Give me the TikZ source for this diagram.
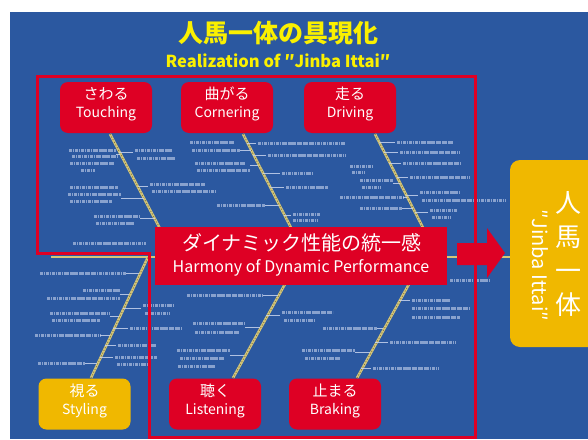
\documentclass[tikz,border=0pt]{standalone}
\usepackage{fontspec}
\setmainfont{Noto Sans CJK JP}
\definecolor{bgblue}{RGB}{43,88,160}
\definecolor{mred}{RGB}{222,0,36}
\definecolor{myel}{RGB}{240,184,0}
\definecolor{tyel}{RGB}{250,240,0}
\definecolor{khaki}{RGB}{212,198,120}
\definecolor{khakid}{RGB}{130,120,70}
\definecolor{blur}{RGB}{200,212,238}
\newcommand{\txtbar}[3]{\draw[txtb] (#1,#3) -- (#2,#3);}
\newcommand{\tck}[3]{\draw[tickl] (#1,#3) -- (#2,#3);}
\begin{document}
\begin{tikzpicture}[x=1pt,y=-1pt,
  catbox/.style={fill=mred,rounded corners=8pt,minimum width=92pt,minimum height=51pt,inner sep=0pt},
  ylbox/.style={catbox,fill=myel},
  jp/.style={text=white,font=\fontsize{15}{15}\selectfont,inner sep=0pt},
  en/.style={text=white,font=\fontsize{14}{14}\selectfont,inner sep=0pt},
  bone/.style={draw=khaki,line width=2.6pt},
  bonet/.style={draw=khakid,line width=0.9pt,dash pattern=on 1pt off 2pt},
  txtb/.style={draw=blur,line width=3pt,opacity=0.6,dash pattern=on 3pt off 0.8pt on 1.5pt off 0.6pt},
  tickl/.style={draw=blur,line width=0.8pt,opacity=0.85},
  frame/.style={draw=mred,line width=3pt}]
\useasboundingbox (0,0) rectangle (588,439);
\clip (0,0) rectangle (588,439);
\fill[bgblue] (10,12) rectangle (588,439);
% title
\node[text=tyel,font=\fontsize{25}{25}\selectfont\bfseries,inner sep=0pt] (title) at (278,33) {人馬一体の具現化};
\node[text=tyel,font=\fontsize{16.5}{16.5}\selectfont\bfseries,inner sep=0pt] (subtitle) at (278,61) {Realization of ″Jinba Ittai″};
% spine
\coordinate (sp0) at (51,257);
\coordinate (sp1) at (510,257);
\draw[bone] (sp0) -- (sp1);
% bone end points
\coordinate (tA) at (110,134); \coordinate (tB) at (175,257);
\coordinate (cA) at (243,134); \coordinate (cB) at (306,257);
\coordinate (dA) at (375,134); \coordinate (dB) at (438,257);
\coordinate (sA) at (91,378);  \coordinate (sB) at (148,257);
\coordinate (lA) at (233,378); \coordinate (lB) at (300,257);
\coordinate (bA) at (357,378); \coordinate (bB) at (424,257);
\foreach \a/\b in {tA/tB,cA/cB,dA/dB,sA/sB,lA/lB,bA/bB}{
  \draw[bone] (\a) -- (\b);
  \draw[bonet] (\a) -- (\b);
}
% Touching details
\txtbar{69}{116}{150} \txtbar{72}{118}{156} \txtbar{70}{114}{163} \txtbar{81}{95}{170}
\tck{116}{120}{154}
\txtbar{135}{172}{150} \txtbar{137}{176}{158} \tck{119}{133}{152}
\txtbar{70}{118}{187} \txtbar{68}{121}{194} \txtbar{70}{112}{201} \tck{121}{144}{198}
\txtbar{150}{205}{184} \txtbar{152}{215}{191} \tck{138}{148}{186}
\txtbar{94}{140}{216} \txtbar{96}{134}{223} \tck{140}{155}{218}
\txtbar{73}{146}{243}
% Cornering details
\txtbar{190}{235}{142} \txtbar{192}{240}{150} \tck{240}{251}{150}
\txtbar{195}{245}{163} \txtbar{197}{250}{170} \tck{250}{258}{165}
\txtbar{217}{265}{205} \tck{265}{279}{205}
\txtbar{258}{345}{143} \tck{247}{256}{143}
\txtbar{268}{345}{155} \tck{253}{266}{155}
\txtbar{282}{312}{173} \tck{263}{280}{173}
\txtbar{286}{328}{187} \tck{270}{284}{187}
\txtbar{293}{320}{214} \txtbar{293}{318}{220} \tck{284}{291}{215}
% Driving details
\txtbar{350}{372}{166} \txtbar{352}{365}{172}
\txtbar{360}{393}{180} \txtbar{362}{380}{187} \tck{393}{400}{183}
\txtbar{340}{403}{197} \tck{403}{407}{197}
\txtbar{360}{402}{208} \tck{402}{413}{208}
\txtbar{397}{453}{142} \tck{379}{395}{142}
\txtbar{400}{460}{152} \tck{384}{398}{152}
\txtbar{403}{460}{163} \tck{389}{401}{163}
\txtbar{410}{470}{177} \tck{397}{408}{177}
\txtbar{420}{460}{192} \txtbar{422}{505}{200} \tck{406}{418}{195}
\txtbar{430}{457}{210} \txtbar{432}{450}{217} \tck{415}{428}{212}
% Styling details
\txtbar{40}{126}{273} \tck{126}{139}{273}
\txtbar{83}{120}{290} \txtbar{47}{120}{298} \tck{120}{129}{294}
\txtbar{50}{110}{313} \txtbar{52}{100}{320} \tck{110}{119}{316}
\txtbar{35}{100}{335} \tck{100}{110}{335}
\txtbar{38}{85}{363} \tck{85}{97}{363}
\txtbar{143}{173}{305} \txtbar{145}{170}{313} \tck{123}{141}{308}
\txtbar{130}{182}{328} \tck{113}{128}{328}
\txtbar{118}{157}{345} \tck{105}{116}{345}
\txtbar{115}{157}{357} \txtbar{117}{150}{364} \tck{100}{113}{357}
% Listening details
\txtbar{187}{263}{295} \tck{263}{278}{295}
\txtbar{193}{245}{323} \txtbar{195}{240}{332} \tck{245}{260}{327}
\txtbar{177}{230}{350} \txtbar{180}{225}{358} \txtbar{178}{215}{366} \tck{230}{244}{355}
\txtbar{282}{333}{312} \txtbar{284}{315}{320} \tck{266}{280}{315}
% Braking details
\txtbar{323}{377}{328} \tck{377}{383}{328}
\txtbar{302}{355}{350} \txtbar{305}{340}{358} \tck{355}{370}{352}
\txtbar{412}{450}{300} \txtbar{412}{470}{308} \txtbar{412}{460}{317} \tck{399}{410}{300}
\txtbar{390}{455}{342} \tck{375}{388}{342}
\txtbar{373}{438}{368} \tck{361}{371}{368}
\txtbar{450}{490}{280}
% red frame
\draw[frame] (37,76) -- (475,76) -- (475,437) -- (149,437) -- (149,253) -- (37,253) -- cycle;
% centre box
\node[fill=mred,minimum width=292pt,minimum height=58pt,inner sep=0pt] (core) at (301,256) {};
\node[text=white,font=\fontsize{20}{20}\selectfont,inner sep=0pt] (coreJ) at (302,243) {ダイナミック性能の統一感};
\node[text=white,font=\fontsize{16}{16}\selectfont,inner sep=0pt] (coreE) at (301,268) {Harmony of Dynamic Performance};
% arrow
\fill[mred] (457,243) -- (487,243) -- (487,228) -- (505,253) -- (487,278) -- (487,265) -- (457,265) -- cycle;
\coordinate (arrowtip) at (505,253);
% category boxes
\node[catbox] (touch) at (106,107.5) {};
\node[jp] at (106,93.5) {さわる}; \node[en] at (106,113.5) {Touching};
\node[catbox] (corner) at (227,107.5) {};
\node[jp] at (227,93.5) {曲がる}; \node[en] at (227,113.5) {Cornering};
\node[catbox] (drive) at (350,107.5) {};
\node[jp] at (350,93.5) {走る}; \node[en] at (350,113.5) {Driving};
\node[ylbox] (style) at (84.5,404) {};
\node[jp] at (84.5,390.5) {視る}; \node[en] at (84.5,410.5) {Styling};
\node[catbox] (listen) at (215,404) {};
\node[jp] at (215,390.5) {聴く}; \node[en] at (215,410.5) {Listening};
\node[catbox] (brake) at (335,404) {};
\node[jp] at (335,390.5) {止まる}; \node[en] at (335,410.5) {Braking};
% goal box
\fill[myel,rounded corners=10pt] (510,160) rectangle (610,347);
\node[inner sep=0pt] (goal) at (549,253) {};
\node[text=white,font=\fontsize{26}{34}\selectfont,inner sep=0pt,align=center] (goalJ) at (568,254) {人\\馬\\一\\体};
\node[text=white,font=\fontsize{20}{20}\selectfont,inner sep=0pt,rotate=-90] (goalE) at (540,265) {″Jinba Ittai″};
\end{tikzpicture}
\end{document}
